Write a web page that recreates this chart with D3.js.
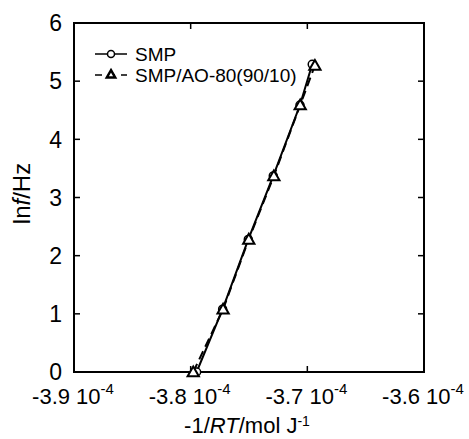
<!DOCTYPE html>
<html>
<head>
<meta charset="utf-8">
<script src="https://cdn.jsdelivr.net/npm/d3@7"></script>
<style>
  body { margin: 0; background: #fff; }
  text { font-family: "Liberation Sans", Arial, sans-serif; fill: #000; }
</style>
</head>
<body>
<div id="chart"></div>
<script>
// values in units of 1e-4 mol/J
const smpX = [-3.7949, -3.7726, -3.7506, -3.7292, -3.7063, -3.6958];
const smpY = [0, 1.08, 2.28, 3.37, 4.59, 5.29];
const aoX = [-3.7978, -3.7722, -3.7502, -3.7287, -3.7061, -3.6935];
const aoY = [0, 1.08, 2.28, 3.37, 4.59, 5.27];
const xTicks = [-3.9, -3.8, -3.7, -3.6];
const yTicks = [0, 1, 2, 3, 4, 5, 6];
const seriesNames = ["SMP", "SMP/AO-80(90/10)"];

const width = 469, height = 439;
const margin = {top: 23, right: 45, bottom: 67, left: 74};
const w = width - margin.left - margin.right;
const h = height - margin.top - margin.bottom;

const svg = d3.select("#chart").append("svg")
  .attr("width", width)
  .attr("height", height);

const g = svg.append("g")
  .attr("transform", "translate(" + margin.left + "," + margin.top + ")");

const x = d3.scaleLinear().domain([-3.9, -3.6]).range([0, w]);
const y = d3.scaleLinear().domain([0, 6]).range([h, 0]);

// frame
g.append("rect")
  .attr("width", w).attr("height", h)
  .attr("fill", "none").attr("stroke", "#000").attr("stroke-width", 2);

// inward ticks on all four sides
const tl = 6;
xTicks.slice(1, -1).forEach(t => {
  g.append("line").attr("x1", x(t)).attr("x2", x(t)).attr("y1", h).attr("y2", h - tl)
    .attr("stroke", "#000").attr("stroke-width", 1.5);
  g.append("line").attr("x1", x(t)).attr("x2", x(t)).attr("y1", 0).attr("y2", tl)
    .attr("stroke", "#000").attr("stroke-width", 1.5);
});
yTicks.slice(1, -1).forEach(t => {
  g.append("line").attr("x1", 0).attr("x2", tl).attr("y1", y(t)).attr("y2", y(t))
    .attr("stroke", "#000").attr("stroke-width", 1.5);
  g.append("line").attr("x1", w).attr("x2", w - tl).attr("y1", y(t)).attr("y2", y(t))
    .attr("stroke", "#000").attr("stroke-width", 1.5);
});

// y tick labels
g.selectAll(".ylab").data(yTicks).join("text")
  .attr("class", "ylab")
  .attr("x", -12)
  .attr("y", d => y(d))
  .attr("dy", "0.36em")
  .attr("text-anchor", "end")
  .style("font-size", "23px")
  .text(d => d);

// x tick labels like "-3.9 10^-4"
const xl = g.selectAll(".xlab").data(xTicks).join("text")
  .attr("class", "xlab")
  .attr("x", d => x(d) - 1)
  .attr("y", h + 32)
  .attr("text-anchor", "middle")
  .style("font-size", "22px");
xl.append("tspan").text(d => d.toFixed(1) + " 10");
xl.append("tspan").attr("dy", -10).style("font-size", "15px").text("-4");

// axis titles
const xt = g.append("text")
  .attr("x", w / 2 - 2)
  .attr("y", h + 61)
  .attr("text-anchor", "middle")
  .style("font-size", "22px");
xt.append("tspan").text("-1/");
xt.append("tspan").style("font-style", "italic").text("RT");
xt.append("tspan").text("/mol J");
xt.append("tspan").attr("dy", -7).style("font-size", "14px").text("-1");

const yt = g.append("text")
  .attr("transform", "translate(" + (-44) + "," + (h / 2 - 4) + ") rotate(-90)")
  .attr("text-anchor", "middle")
  .style("font-size", "24px");
yt.append("tspan").text("ln");
yt.append("tspan").style("font-style", "italic").text("f");
yt.append("tspan").text("/Hz");

// lines
const smp = smpX.map((v, i) => ({x: v, y: smpY[i]}));
const ao = aoX.map((v, i) => ({x: v, y: aoY[i]}));
const line = d3.line().x(d => x(d.x)).y(d => y(d.y));

g.append("path").datum(ao).attr("d", line)
  .attr("fill", "none").attr("stroke", "#000").attr("stroke-width", 2)
  .attr("stroke-dasharray", "9,5");
g.append("path").datum(smp).attr("d", line)
  .attr("fill", "none").attr("stroke", "#000").attr("stroke-width", 2);

const tri = d3.symbol().type(d3.symbolTriangle).size(55);

g.selectAll(".smp").data(smp).join("circle")
  .attr("class", "smp")
  .attr("cx", d => x(d.x)).attr("cy", d => y(d.y)).attr("r", 4)
  .attr("fill", "#fff").attr("stroke", "#000").attr("stroke-width", 1.5);

g.selectAll(".ao").data(ao).join("path")
  .attr("class", "ao")
  .attr("transform", d => "translate(" + x(d.x) + "," + (y(d.y) + 1) + ")")
  .attr("d", tri)
  .attr("fill", "#fff").attr("stroke", "#000").attr("stroke-width", 2);

// legend
const leg = g.append("g").attr("transform", "translate(21,31)");
leg.append("line").attr("x1", 0).attr("x2", 32).attr("y1", 0).attr("y2", 0)
  .attr("stroke", "#000").attr("stroke-width", 1.5);
leg.append("circle").attr("cx", 16).attr("cy", 0).attr("r", 3.5)
  .attr("fill", "#fff").attr("stroke", "#000").attr("stroke-width", 1.5);
leg.append("text").attr("x", 40).attr("y", 0).attr("dy", "0.36em")
  .style("font-size", "19px").text(seriesNames[0]);

leg.append("line").attr("x1", 0).attr("x2", 32).attr("y1", 21).attr("y2", 21)
  .attr("stroke", "#000").attr("stroke-width", 1.5).attr("stroke-dasharray", "7,6");
leg.append("path").attr("transform", "translate(16,21)")
  .attr("d", d3.symbol().type(d3.symbolTriangle).size(30))
  .attr("fill", "#fff").attr("stroke", "#000").attr("stroke-width", 2.5);
leg.append("text").attr("x", 40).attr("y", 21).attr("dy", "0.36em")
  .style("font-size", "19px").text(seriesNames[1]);
</script>
</body>
</html>
